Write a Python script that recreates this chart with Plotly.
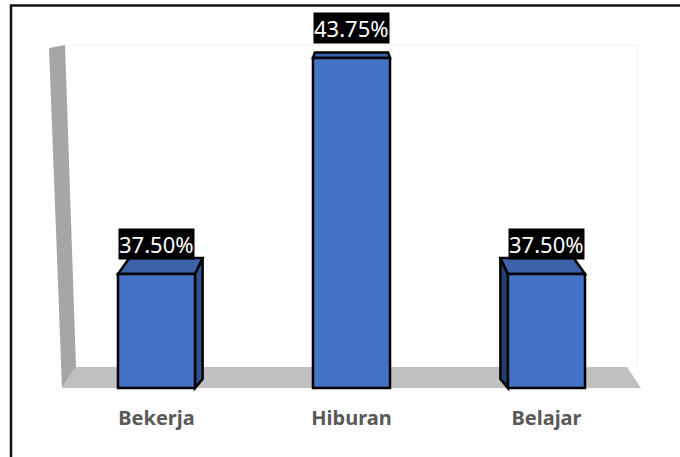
import plotly.graph_objects as go

# ---- data ----
categories = ["Bekerja", "Hiburan", "Belajar"]
values = [37.50, 43.75, 37.50]
value_labels = ["37.50%", "43.75%", "37.50%"]

# ---- layout geometry (screen pixels; body margin removed by post_script) ----
W, H = 680, 457
L, T = 40, 30
R = W - 660
B = H - 395
X_RANGE = [-0.5974, 2.5821]
Y_RANGE = [34.0, 44.56]
BAR_BASE = 34.2
BAR_W = 0.395

plot_w = W - L - R
plot_h = H - T - B


def xpx(x):
    return L + (x - X_RANGE[0]) / (X_RANGE[1] - X_RANGE[0]) * plot_w


def ypx(y):
    return T + (Y_RANGE[1] - y) / (Y_RANGE[1] - Y_RANGE[0]) * plot_h


def xd(px):
    return X_RANGE[0] + (px - L) / plot_w * (X_RANGE[1] - X_RANGE[0])


def yd(py):
    return Y_RANGE[1] - (py - T) / plot_h * (Y_RANGE[1] - Y_RANGE[0])


def path(points, close=True):
    s = "M " + " L ".join(f"{xd(px):.5f},{yd(py):.5f}" for px, py in points)
    return s + (" Z" if close else "")


def ppx(px):
    return (px - L) / plot_w


def ppy(py):
    return (T + plot_h - py) / plot_h


# perspective for the 3D look
VX = xpx(1)
VY = -55
K = 0.0486
BOTTOM_DY = -9


def back_top(p):
    px, py = p
    return (px + (VX - px) * K, py + (VY - py) * K)


def back_bot(p):
    px, py = p
    return (px + (VX - px) * K, py + BOTTOM_DY)


FRONT = "#4472c4"
TOP = "#3c62aa"
SIDE_R = "#2f5290"
SIDE_L = "#22406f"
OUT = "#000000"

shapes = []

# back wall & floor
floor_y = ypx(BAR_BASE)
wall = [(49, 48), (65, 45), (76, 367), (62, floor_y)]
floor = [(76, 367), (627, 367), (641, floor_y), (62, floor_y)]
shapes.append(dict(type="path", xref="x", yref="y", path=path(wall),
                   fillcolor="#a6a6a6", line=dict(width=0), layer="below"))
shapes.append(dict(type="path", xref="x", yref="y", path=path(floor),
                   fillcolor="#c0c0c0", line=dict(width=0), layer="below"))
shapes.append(dict(type="path", xref="x", yref="y",
                   path=path([(65, 45), (637, 45), (637, 367)], close=False),
                   line=dict(color="#f0f0f0", width=1), layer="below"))

# 3D faces of the bars
for i, v in enumerate(values):
    xl, xr = xpx(i - BAR_W / 2), xpx(i + BAR_W / 2)
    yt, yb = ypx(v), ypx(BAR_BASE)
    ftl, ftr, fbl, fbr = (xl, yt), (xr, yt), (xl, yb), (xr, yb)
    btl, btr = back_top(ftl), back_top(ftr)
    bbl, bbr = back_bot(fbl), back_bot(fbr)
    if btr[0] > xr + 0.5:
        shapes.append(dict(type="path", xref="x", yref="y",
                           path=path([ftr, btr, bbr, fbr]), fillcolor=SIDE_R,
                           line=dict(color=OUT, width=2.5), layer="below"))
    if btl[0] < xl - 0.5:
        shapes.append(dict(type="path", xref="x", yref="y",
                           path=path([ftl, btl, bbl, fbl]), fillcolor=SIDE_L,
                           line=dict(color=OUT, width=2.5), layer="below"))
    shapes.append(dict(type="path", xref="x", yref="y",
                       path=path([ftl, ftr, btr, btl]), fillcolor=TOP,
                       line=dict(color=OUT, width=2.5), layer="below"))

# outer frame (runs off the right and bottom edges)
shapes.append(dict(type="rect", xref="paper", yref="paper",
                   x0=ppx(11), y0=ppy(H + 40), x1=ppx(W + 40), y1=ppy(5.5),
                   line=dict(color="#111111", width=2.5), fillcolor="rgba(0,0,0,0)"))

fig = go.Figure()
fig.add_trace(go.Bar(
    x=list(range(len(categories))),
    y=[v - BAR_BASE for v in values],
    base=BAR_BASE,
    width=BAR_W,
    marker=dict(color=FRONT, line=dict(color=OUT, width=2.5)),
    hoverinfo="skip",
))

annotations = []
for i, (v, lab) in enumerate(zip(values, value_labels)):
    annotations.append(dict(
        x=i, y=v, xref="x", yref="y", text=lab, showarrow=False,
        yanchor="bottom", yshift=14,
        font=dict(family="Noto Sans", size=22, color="white"),
        bgcolor="black", borderpad=0,
    ))

fig.update_layout(
    width=W, height=H,
    margin=dict(l=L, r=R, t=T, b=B),
    paper_bgcolor="white", plot_bgcolor="white",
    showlegend=False,
    hovermode=False,
    shapes=shapes,
    annotations=annotations,
    xaxis=dict(range=X_RANGE, tickvals=list(range(len(categories))), ticktext=categories,
               showgrid=False, zeroline=False, showline=False, ticks="",
               ticklabelstandoff=9,
               tickfont=dict(family="Noto Sans", size=20, color="#595959", weight="bold")),
    yaxis=dict(range=Y_RANGE, visible=False, showgrid=False, zeroline=False),
)

fig.write_html(
    "out.html",
    config={"displayModeBar": False},
    post_script="document.body.style.margin='0px';document.body.style.overflow='hidden';",
)
